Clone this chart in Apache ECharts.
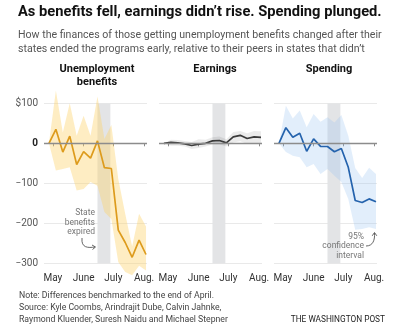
<!DOCTYPE html>
<html>
<head>
<meta charset="utf-8">
<script src="https://cdn.jsdelivr.net/npm/echarts@6/dist/echarts.min.js"></script>
<style>
  html, body { margin: 0; padding: 0; background: #fff; }
  #chart { width: 400px; height: 325px; }
</style>
</head>
<body>
<div id="chart"></div>
<script>
// Weekly observations, in days since May 1 (first point is the end of April)
const weekDays = [-4, 3, 10, 17, 24, 31, 38, 45, 52, 59, 66, 73, 80, 87, 94];

// Month tick positions (days since May 1) and their labels
const monthTicks = [0, 31, 61, 92];
const monthLabels = ['May', 'June', 'July', 'Aug.'];

// Y-axis tick labels
const yTicks = [100, 0, -100, -200, -300];
const yTickLabels = ['$100', '0', '\u2212100', '\u2212200', '\u2212300'];

// Window in which state benefits expired
const expiredWindow = [45, 58];

// Unemployment benefits: estimate and 95% confidence bounds
const benefits     = [0, 35, -22, 18, -53, -21, -37, 6, -61, -63, -217, -248, -285, -242, -278];
const benefitsLow  = [0, -68, -64, -60, -118, -114, -97, -106, -172, -189, -297, -322, -330, -306, -318];
const benefitsHigh = [0, 132, 27, 100, 19, 69, 19, 117, 11, 46, -89, -176, -258, -176, -208];

// Earnings
const earnings     = [0, 2.5, 1, -1.5, -5.5, -2, 0, 6, 7, 1, 16, 20, 12, 16, 15];
const earningsLow  = [0, -6, -6, -8, -14, -12, -8, -3, -3, -8, 2, 5, -2, 0, 0];
const earningsHigh = [0, 9, 8, 6, 3, 10, 9, 15, 17, 10, 28, 31, 25, 31, 30];

// Spending
const spending     = [0, 39, 15, 25, -20, 11, -7.5, -8, -21, -13, -60, -143, -148, -139, -146];
const spendingLow  = [0, -22, -31, -35, -60, -52, -77, -64, -81, -97, -139, -216, -214, -210, -214];
const spendingHigh = [0, 94, 62, 82, 40, 73, 54, 65, 52, 71, 19, -62, -87, -61, -77];

const FONT = 'Roboto, "Liberation Sans", sans-serif';

const panels = [
  { line: benefits, low: benefitsLow, high: benefitsHigh, color: '#dd9b1c', band: 'rgba(252, 210, 105, 0.4)', left: 44 },
  { line: earnings, low: earningsLow, high: earningsHigh, color: '#3a3a3a', band: 'rgba(0, 0, 0, 0.08)', left: 159 },
  { line: spending, low: spendingLow, high: spendingHigh, color: '#2563ad', band: 'rgba(150, 195, 240, 0.28)', left: 274 }
];

const grids = [], xAxes = [], yAxes = [], series = [];

panels.forEach((p, i) => {
  grids.push({ left: p.left, width: 103, top: 103.3, height: 160 });
  xAxes.push({
    type: 'value', gridIndex: i, min: -9, max: 95,
    axisLine: { show: false },
    splitLine: { show: false },
    axisTick: { show: true, customValues: monthTicks, length: 3, lineStyle: { color: '#8a8a8a', width: 1 } },
    axisLabel: {
      customValues: monthTicks, margin: 10, fontSize: 10, color: '#333', fontFamily: FONT,
      formatter: v => monthLabels[monthTicks.indexOf(v)]
    }
  });
  yAxes.push({
    type: 'value', gridIndex: i, min: -300, max: 100, interval: 100,
    axisLine: { show: false }, axisTick: { show: false },
    splitLine: { lineStyle: { color: '#e9e9e9', width: 1 } },
    axisLabel: {
      show: i === 0, margin: 6, fontSize: 10, color: '#555', fontFamily: FONT,
      formatter: v => {
        const s = yTickLabels[yTicks.indexOf(v)];
        return v === 0 ? '{z|' + s + '}' : s;
      },
      rich: { z: { fontWeight: 'bold', color: '#222', fontSize: 10, fontFamily: FONT } }
    }
  });

  // Grey column marking when state benefits expired
  series.push({
    type: 'custom', xAxisIndex: i, yAxisIndex: i, silent: true,
    data: [[expiredWindow[0], expiredWindow[1]]],
    encode: { x: [0, 1] },
    renderItem: (params, api) => {
      const a = api.coord([api.value(0), 100]);
      const b = api.coord([api.value(1), -300]);
      return { type: 'rect', shape: { x: a[0], y: a[1], width: b[0] - a[0], height: b[1] - a[1] },
               style: { fill: '#e3e4e6' } };
    },
    z: 1
  });
  // 95% confidence band: polygon through upper bounds, back along lower bounds
  series.push({
    type: 'custom', xAxisIndex: i, yAxisIndex: i, clip: false, silent: true,
    data: weekDays.map((d, k) => [d, p.low[k], p.high[k]]),
    encode: { x: 0, y: [1, 2] },
    renderItem: (params, api) => {
      if (params.dataIndex !== 0) return null;
      const pts = [];
      weekDays.forEach((d, k) => pts.push(api.coord([d, p.high[k]])));
      for (let k = weekDays.length - 1; k >= 0; k--) pts.push(api.coord([weekDays[k], p.low[k]]));
      return { type: 'polygon', shape: { points: pts }, style: { fill: p.band } };
    },
    z: 2
  });
  // Estimate line, with the zero baseline
  series.push({
    type: 'line', xAxisIndex: i, yAxisIndex: i,
    data: weekDays.map((d, k) => [d, p.line[k]]),
    symbol: 'none', silent: true,
    lineStyle: { color: p.color, width: 1.7 },
    markLine: {
      silent: true, symbol: 'none', label: { show: false },
      lineStyle: { color: '#8c8c8c', width: 1.4, type: 'solid' },
      data: [{ yAxis: 0 }]
    },
    z: 4
  });
});

const txt = (text, x, y, opts) => ({
  type: 'text', x, y, silent: true, z: 100,
  style: Object.assign({ text, fill: '#333', font: '10px ' + FONT, textVerticalAlign: 'middle' }, opts || {})
});

const graphics = [
  txt('As benefits fell, earnings didn\u2019t rise. Spending plunged.', 18, 12,
      { fill: '#111', font: 'bold 14.7px ' + FONT }),
  txt('How the finances of those getting unemployment benefits changed after their', 18, 35,
      { fill: '#555', font: '10.6px ' + FONT }),
  txt('states ended the programs early, relative to their peers in states that didn\u2019t', 18, 49,
      { fill: '#555', font: '10.6px ' + FONT }),

  txt('Unemployment', 97, 69, { textAlign: 'center', fill: '#111', font: 'bold 11px ' + FONT }),
  txt('benefits', 97, 82.5, { textAlign: 'center', fill: '#111', font: 'bold 11px ' + FONT }),
  txt('Earnings', 215, 69, { textAlign: 'center', fill: '#111', font: 'bold 11px ' + FONT }),
  txt('Spending', 329, 69, { textAlign: 'center', fill: '#111', font: 'bold 11px ' + FONT }),

  // "State benefits expired" note and arrow
  txt('State', 95, 213, { textAlign: 'right', fill: '#777', font: '8.5px ' + FONT }),
  txt('benefits', 95, 222.5, { textAlign: 'right', fill: '#777', font: '8.5px ' + FONT }),
  txt('expired', 95, 232, { textAlign: 'right', fill: '#777', font: '8.5px ' + FONT }),
  { type: 'bezierCurve', silent: true, z: 100,
    shape: { x1: 82, y1: 238, cpx1: 81, cpy1: 248, cpx2: 88, cpy2: 248, x2: 95, y2: 247 },
    style: { stroke: '#555', lineWidth: 0.9, fill: null } },
  { type: 'polyline', silent: true, z: 100,
    shape: { points: [[92, 245], [95.5, 247], [92.5, 249.5]] },
    style: { stroke: '#555', lineWidth: 0.9, fill: null } },

  // "95% confidence interval" note and arrow
  txt('95%', 364, 236.5, { textAlign: 'right', fill: '#777', font: '8.5px ' + FONT }),
  txt('confidence', 364, 246, { textAlign: 'right', fill: '#777', font: '8.5px ' + FONT }),
  txt('interval', 364, 255.5, { textAlign: 'right', fill: '#777', font: '8.5px ' + FONT }),
  { type: 'bezierCurve', silent: true, z: 100,
    shape: { x1: 366, y1: 246, cpx1: 373, cpy1: 246, cpx2: 375, cpy2: 240, x2: 374.5, y2: 233 },
    style: { stroke: '#555', lineWidth: 0.9, fill: null } },
  { type: 'polyline', silent: true, z: 100,
    shape: { points: [[372.2, 235.8], [374.5, 232.5], [376.8, 235.8]] },
    style: { stroke: '#555', lineWidth: 0.9, fill: null } },

  // Footer
  txt('Note: Differences benchmarked to the end of April.', 19, 296, { fill: '#444', font: '8.7px ' + FONT }),
  txt('Source: Kyle Coombs, Arindrajit Dube, Calvin Jahnke,', 19, 308, { fill: '#444', font: '8.7px ' + FONT }),
  txt('Raymond Kluender, Suresh Naidu and Michael Stepner', 19, 320, { fill: '#444', font: '8.7px ' + FONT }),
  txt('THE WASHINGTON POST', 385, 320, { textAlign: 'right', fill: '#222', font: '8.3px ' + FONT })
];

const chart = echarts.init(document.getElementById('chart'), null, { renderer: 'canvas' });
chart.setOption({
  animation: false,
  backgroundColor: '#fff',
  grid: grids,
  xAxis: xAxes,
  yAxis: yAxes,
  series: series,
  graphic: graphics
});
</script>
</body>
</html>
